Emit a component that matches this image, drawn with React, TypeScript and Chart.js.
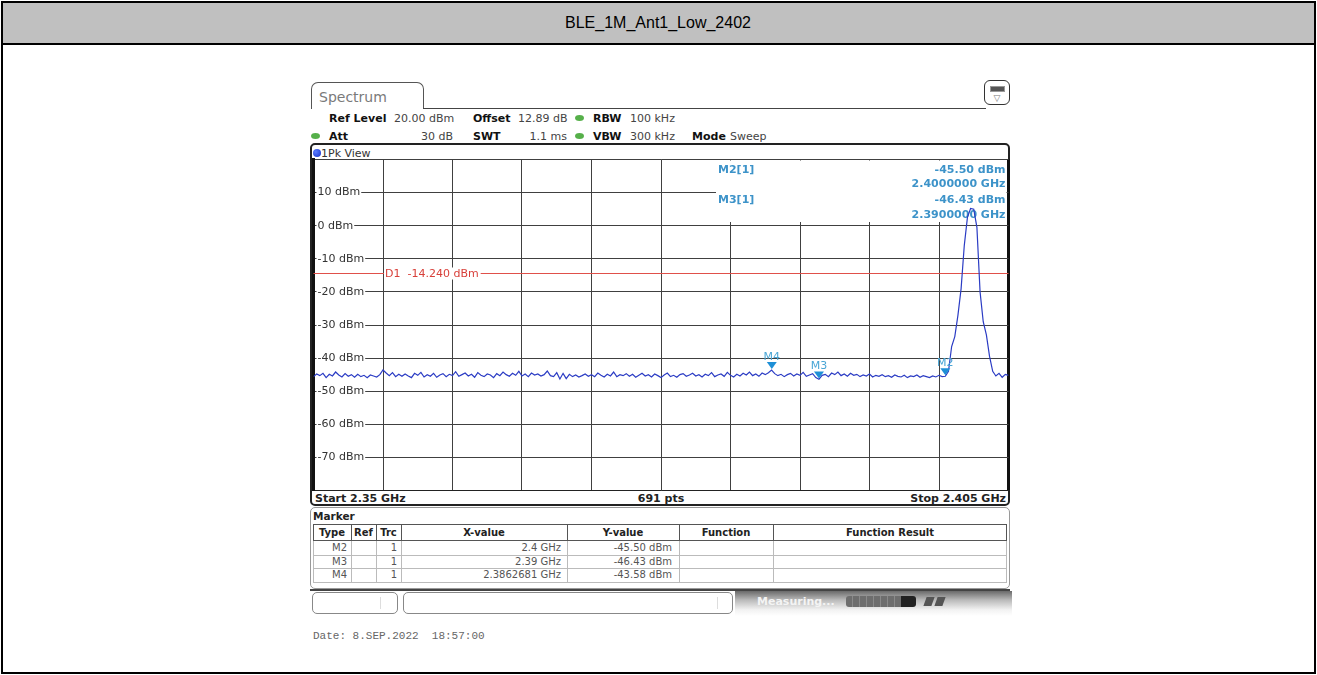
import React, { useEffect, useRef } from "react";
import { Chart, registerables } from "chart.js";

Chart.register(...registerables);

// ---------------- data ----------------
const TITLE = "BLE_1M_Ant1_Low_2402";
const START_GHZ = 2.35;
const STOP_GHZ = 2.405;
const TRACE_STEP_GHZ = 0.00025;
const TRACE_DBM = [
  -45.6, -44.8, -45.3, -44.6, -45.9, -44.9, -45.4, -44.2, -45.1, -45.7,
  -44.7, -45.5, -45.0, -45.8, -44.9, -45.6, -45.2, -45.9, -45.1, -45.4,
  -45.7, -45.0, -43.6, -44.5, -45.3, -44.4, -45.6, -44.9, -45.5, -44.8,
  -45.4, -45.9, -44.6, -45.2, -44.3, -45.7, -45.0, -45.5, -44.6, -45.8,
  -45.1, -44.7, -45.6, -44.9, -45.3, -44.1, -45.5, -45.0, -44.5, -45.4,
  -44.9, -45.8, -44.4, -45.2, -45.6, -44.8, -45.1, -45.9, -44.7, -45.3,
  -44.2, -45.0, -45.5, -44.6, -45.2, -44.0, -45.4, -44.8, -45.6, -44.5,
  -45.1, -44.8, -45.4, -45.0, -43.9, -45.3, -45.6, -44.4, -46.3, -44.6,
  -46.2, -44.9, -45.6, -45.1, -45.7, -45.3, -44.8, -45.5, -45.0, -45.6,
  -44.5, -45.2, -45.7, -44.9, -45.4, -44.2, -45.6, -45.0, -45.3, -44.7,
  -45.5, -44.9, -45.8, -45.2, -44.6, -45.4, -45.0, -45.7, -44.8, -45.3,
  -45.9, -45.1, -44.5, -45.6, -45.2, -45.8, -45.0, -44.7, -45.5, -45.1,
  -44.6, -45.4, -45.0, -45.7, -44.9, -45.3, -44.4, -45.6, -45.1, -44.8,
  -45.5, -44.3, -45.2, -45.7, -44.9, -45.4, -44.6, -45.1, -44.2, -45.3,
  -44.8, -45.5, -44.5, -45.0, -44.4, -43.6, -44.7, -45.3, -44.9, -45.6,
  -45.0, -44.6, -45.4, -44.8, -45.2, -44.3, -45.5, -45.1, -44.7, -45.9,
  -46.4, -45.2, -44.9, -45.6, -44.5, -45.0, -44.2, -45.3, -44.8, -45.5,
  -44.6, -45.2, -44.9, -45.6, -45.1, -45.4, -44.8, -45.7, -45.2, -45.5,
  -45.0, -45.6, -45.3, -45.8, -45.1, -45.5, -45.7, -45.2, -45.9, -45.4,
  -45.6, -45.1, -45.8, -45.3, -45.6, -45.9, -45.4, -45.7, -45.2, -45.6,
  -45.5, -44.0, -36.5, -33.5, -27.0, -19.0, -6.0, 2.5, 5.2, 5.0,
  -0.5, -20.0, -29.0, -33.0, -39.5, -44.0, -45.4, -44.6, -45.8, -44.9, -45.2,
];
const X_GRID_GHZ = [2.35, 2.3555, 2.361, 2.3665, 2.372, 2.3775, 2.383, 2.3885, 2.394, 2.3995, 2.405];
const Y_MIN_DBM = -80;
const Y_MAX_DBM = 20;
const Y_STEP_DB = 10;
const D1_DBM = -14.24;
const D1_TEXT = "D1  -14.240 dBm";

const MARKER_NAMES = ["M2", "M3", "M4"];
const MARKER_GHZ = [2.4, 2.39, 2.3862681];
const MARKER_DBM = [-45.5, -46.43, -43.58];
const MARKER_TRC = ["1", "1", "1"];
const MARKER_X_TEXT = ["2.4 GHz", "2.39 GHz", "2.3862681 GHz"];
const MARKER_Y_TEXT = ["-45.50 dBm", "-46.43 dBm", "-43.58 dBm"];

const INFO_LABELS = ["M2[1]", "M3[1]"];
const INFO_LEVELS = ["-45.50 dBm", "-46.43 dBm"];
const INFO_FREQS = ["2.4000000 GHz", "2.3900000 GHz"];

const TABLE_HEADERS = ["Type", "Ref", "Trc", "X-value", "Y-value", "Function", "Function Result"];

// ---------------- layout constants ----------------
const W = 1317;
const H = 675;
const PLOT_L = 313.5;
const PLOT_R = 1008.5;
const PLOT_T = 159.5;
const PLOT_B = 490.5;
const Y_AXIS_W = 8;
const TABLE_COLS = [313, 351, 376, 401, 567, 679, 773, 1007];

const VERDANA = '"DejaVu Sans", Verdana, sans-serif';
const INFO_BLUE = "#3d93c9";

const overlayPlugin = {
  id: "overlay",
  beforeDatasetsDraw(chart: any) {
    const { ctx, chartArea: a, scales } = chart;
    const xs = scales.x;
    const ys = scales.y;
    ctx.save();
    // marker info box
    ctx.fillStyle = "#ffffff";
    ctx.fillRect(716, a.top + 1, a.right - 2 - 716, 221 - a.top);
    ctx.font = `bold 11px ${VERDANA}`;
    ctx.fillStyle = INFO_BLUE;
    ctx.textBaseline = "middle";
    INFO_LABELS.forEach((lab, j) => {
      const yy = 170 + j * 30.5;
      ctx.textAlign = "left";
      ctx.fillText(lab, 718, yy);
      ctx.textAlign = "right";
      ctx.fillText(INFO_LEVELS[j], a.right - 3, yy);
      ctx.fillText(INFO_FREQS[j], a.right - 3, yy + 14.5);
    });
    // display line D1
    const yd = Math.round(ys.getPixelForValue(D1_DBM)) + 0.5;
    ctx.strokeStyle = "#e0504a";
    ctx.lineWidth = 1;
    ctx.beginPath();
    ctx.moveTo(a.left, yd);
    ctx.lineTo(a.right, yd);
    ctx.stroke();
    const lx = xs.getPixelForValue(X_GRID_GHZ[1]) + 1;
    ctx.font = `11px ${VERDANA}`;
    const tw = ctx.measureText(D1_TEXT).width;
    ctx.fillStyle = "#ffffff";
    ctx.fillRect(lx, yd - 6, tw + 3, 12);
    ctx.fillStyle = "#d8403a";
    ctx.textAlign = "left";
    ctx.fillText(D1_TEXT, lx + 1, yd + 0.5);
    ctx.restore();
  },
  afterDatasetsDraw(chart: any) {
    const { ctx, scales } = chart;
    const xs = scales.x;
    const ys = scales.y;
    ctx.save();
    MARKER_NAMES.forEach((name, i) => {
      const px = xs.getPixelForValue(MARKER_GHZ[i]);
      const py = ys.getPixelForValue(MARKER_DBM[i]);
      ctx.fillStyle = "#1f8fd6";
      ctx.beginPath();
      ctx.moveTo(px - 5, py - 8);
      ctx.lineTo(px + 5, py - 8);
      ctx.lineTo(px, py - 1);
      ctx.closePath();
      ctx.fill();
      ctx.font = `11px ${VERDANA}`;
      ctx.fillStyle = "#4aa6d6";
      ctx.textAlign = "center";
      ctx.textBaseline = "alphabetic";
      ctx.fillText(name, px, py - 10);
    });
    ctx.restore();
  },
};

type TxtProps = {
  x: number;
  y: number;
  children: React.ReactNode;
  align?: "left" | "right" | "center";
  bold?: boolean;
  size?: number;
  color?: string;
  family?: string;
};

function Txt({ x, y, children, align = "left", bold, size = 11, color = "#222", family = VERDANA }: TxtProps) {
  const tx = align === "left" ? "0" : align === "right" ? "-100%" : "-50%";
  return (
    <div
      style={{
        position: "absolute",
        left: x,
        top: y,
        transform: `translate(${tx}, -50%)`,
        whiteSpace: "pre",
        fontSize: size,
        fontWeight: bold ? 700 : 400,
        color,
        fontFamily: family,
        lineHeight: 1,
      }}
    >
      {children}
    </div>
  );
}

function Dot({ x, y, color }: { x: number; y: number; color: string }) {
  return (
    <div
      style={{
        position: "absolute",
        left: x - 4.5,
        top: y - 3,
        width: 9,
        height: 6,
        borderRadius: "50%",
        background: color,
      }}
    />
  );
}

export default function App() {
  const canvasRef = useRef<HTMLCanvasElement | null>(null);

  useEffect(() => {
    const canvas = canvasRef.current;
    if (!canvas) return;
    const points = TRACE_DBM.map((v, i) => ({ x: START_GHZ + i * TRACE_STEP_GHZ, y: v }));
    const chart = new Chart(canvas, {
      type: "line",
      data: {
        datasets: [
          {
            data: points,
            borderColor: "#2b3cc4",
            borderWidth: 1.2,
            pointRadius: 0,
            tension: 0,
            fill: false,
          },
        ],
      },
      options: {
        animation: false,
        responsive: false,
        devicePixelRatio: 1,
        events: [],
        layout: {
          padding: { left: PLOT_L - Y_AXIS_W, top: PLOT_T, right: W - PLOT_R, bottom: H - PLOT_B },
        },
        plugins: { legend: { display: false }, tooltip: { enabled: false } },
        scales: {
          x: {
            type: "linear",
            min: START_GHZ,
            max: STOP_GHZ,
            afterBuildTicks: (s: any) => {
              s.ticks = X_GRID_GHZ.map((v) => ({ value: v }));
            },
            ticks: { display: false },
            grid: {
              drawTicks: false,
              color: (c: any) => (c.index === 0 || c.index === X_GRID_GHZ.length - 1 ? "#111" : "#404040"),
              lineWidth: (c: any) => (c.index === 0 || c.index === X_GRID_GHZ.length - 1 ? 3 : 1),
            },
            border: { display: true, color: "#222", width: 1 },
          },
          y: {
            type: "linear",
            min: Y_MIN_DBM,
            max: Y_MAX_DBM,
            ticks: {
              stepSize: Y_STEP_DB,
              mirror: true,
              padding: 4,
              color: "#333",
              font: { family: "DejaVu Sans", size: 11 },
              callback: (v: any) => (v === Y_MAX_DBM || v === Y_MIN_DBM ? "" : `${v} dBm`),
              showLabelBackdrop: (c: any) => !(c.tick && (c.tick.value === Y_MAX_DBM || c.tick.value === Y_MIN_DBM)),
              backdropColor: "#ffffff",
              backdropPadding: { left: 1, right: 1, top: 0, bottom: 0 },
            },
            grid: { drawTicks: false, color: "#404040", lineWidth: 1 },
            border: { display: true, color: "#111", width: 3 },
          },
        },
      } as any,
      plugins: [overlayPlugin],
    });
    return () => chart.destroy();
  }, []);

  const rowTop = [541, 554.5, 568];
  const rowH = 13.5;

  return (
    <div
      style={{
        position: "fixed",
        left: 0,
        top: 0,
        width: W,
        height: H,
        background: "#fff",
        overflow: "hidden",
        fontFamily: VERDANA,
      }}
    >
      {/* page frame */}
      <div style={{ position: "absolute", left: 1, top: 1, width: 1315, height: 673, border: "2px solid #000", boxSizing: "border-box" }} />
      <div
        style={{
          position: "absolute",
          left: 1,
          top: 1,
          width: 1315,
          height: 44,
          background: "#c0c0c0",
          border: "2px solid #000",
          boxSizing: "border-box",
        }}
      />
      <Txt x={658} y={23} align="center" size={16} color="#000" family='"Liberation Sans", Arial, sans-serif'>
        {TITLE}
      </Txt>

      {/* Spectrum tab */}
      <div
        style={{
          position: "absolute",
          left: 311,
          top: 82,
          width: 113,
          height: 27,
          border: "1.5px solid #555",
          borderBottom: "none",
          borderRadius: "7px 7px 0 0",
          boxSizing: "border-box",
          background: "#fff",
        }}
      />
      <Txt x={319} y={97} size={14} color="#7a7a7a">Spectrum</Txt>
      <div style={{ position: "absolute", left: 423, top: 107.5, width: 563, height: 0, borderTop: "1.5px solid #444" }} />
      <div
        style={{
          position: "absolute",
          left: 984,
          top: 80,
          width: 26,
          height: 25,
          border: "1.5px solid #333",
          borderRadius: 6,
          boxSizing: "border-box",
          background: "#fff",
        }}
      />
      <div style={{ position: "absolute", left: 990, top: 86, width: 13, height: 4, background: "#555", border: "1px solid #999" }} />
      <Txt x={997} y={97.5} align="center" size={9} color="#777">▽</Txt>

      {/* header */}
      <Txt x={329} y={118} bold color="#111">Ref Level</Txt>
      <Txt x={394} y={118} color="#444">20.00 dBm</Txt>
      <Txt x={473} y={118} bold color="#111">Offset</Txt>
      <Txt x={518} y={118} color="#444">12.89 dB</Txt>
      <Dot x={579} y={118} color="#56b04a" />
      <Txt x={593} y={118} bold color="#111">RBW</Txt>
      <Txt x={630} y={118} color="#444">100 kHz</Txt>

      <Dot x={315} y={135.5} color="#56b04a" />
      <Txt x={329} y={135.5} bold color="#111">Att</Txt>
      <Txt x={453} y={135.5} align="right" color="#444">30 dB</Txt>
      <Txt x={473} y={135.5} bold color="#111">SWT</Txt>
      <Txt x={567} y={135.5} align="right" color="#444">1.1 ms</Txt>
      <Dot x={579} y={135.5} color="#56b04a" />
      <Txt x={593} y={135.5} bold color="#111">VBW</Txt>
      <Txt x={630} y={135.5} color="#444">300 kHz</Txt>
      <Txt x={692} y={135.5} bold color="#111">Mode</Txt>
      <Txt x={730} y={135.5} color="#444">Sweep</Txt>

      {/* plot frame */}
      <div
        style={{
          position: "absolute",
          left: 310,
          top: 143,
          width: 700,
          height: 363,
          border: "2px solid #222",
          borderRadius: 5,
          boxSizing: "border-box",
        }}
      />
      <div
        style={{
          position: "absolute",
          left: 312.5,
          top: 148.5,
          width: 8,
          height: 8,
          borderRadius: "50%",
          background: "radial-gradient(circle at 35% 35%, #5a7cff, #1430c8)",
        }}
      />
      <Txt x={321} y={152.5} color="#333">1Pk View</Txt>
      <Txt x={315} y={498} bold color="#222">Start 2.35 GHz</Txt>
      <Txt x={661} y={498} bold align="center" color="#222">691 pts</Txt>
      <Txt x={1006} y={498} bold align="right" color="#222">Stop 2.405 GHz</Txt>

      {/* marker table */}
      <div
        style={{
          position: "absolute",
          left: 310,
          top: 507,
          width: 700,
          height: 82,
          border: "1.5px solid #999",
          borderRadius: 5,
          boxSizing: "border-box",
        }}
      />
      <Txt x={313} y={515.5} bold size={10.5} color="#222">Marker</Txt>
      {TABLE_HEADERS.map((h, c) => (
        <div
          key={h}
          style={{
            position: "absolute",
            left: TABLE_COLS[c],
            top: 524,
            width: TABLE_COLS[c + 1] - TABLE_COLS[c],
            height: 17,
            borderLeft: "1px solid #555",
            borderTop: "1px solid #555",
            borderBottom: "1px solid #555",
            borderRight: c === TABLE_HEADERS.length - 1 ? "1px solid #555" : "none",
            boxSizing: "border-box",
          }}
        />
      ))}
      {TABLE_HEADERS.map((h, c) => (
        <Txt key={"t" + h} x={(TABLE_COLS[c] + TABLE_COLS[c + 1]) / 2} y={532.5} align="center" bold size={10} color="#222">
          {h}
        </Txt>
      ))}
      {MARKER_NAMES.map((name, r) => (
        <React.Fragment key={name}>
          {TABLE_HEADERS.map((h, c) => (
            <div
              key={h}
              style={{
                position: "absolute",
                left: TABLE_COLS[c],
                top: rowTop[r],
                width: TABLE_COLS[c + 1] - TABLE_COLS[c],
                height: rowH + 1,
                borderLeft: "1px solid #bbb",
                borderBottom: "1px solid #bbb",
                borderRight: c === TABLE_HEADERS.length - 1 ? "1px solid #bbb" : "none",
                boxSizing: "border-box",
              }}
            />
          ))}
          <Txt x={TABLE_COLS[1] - 4} y={rowTop[r] + 7} align="right" size={10} color="#555">{name}</Txt>
          <Txt x={TABLE_COLS[3] - 4} y={rowTop[r] + 7} align="right" size={10} color="#555">{MARKER_TRC[r]}</Txt>
          <Txt x={TABLE_COLS[4] - 6} y={rowTop[r] + 7} align="right" size={10} color="#555">{MARKER_X_TEXT[r]}</Txt>
          <Txt x={TABLE_COLS[5] - 7} y={rowTop[r] + 7} align="right" size={10} color="#555">{MARKER_Y_TEXT[r]}</Txt>
        </React.Fragment>
      ))}

      {/* status bar */}
      <div style={{ position: "absolute", left: 310, top: 589, width: 700, height: 2, background: "#444" }} />
      <div style={{ position: "absolute", left: 312, top: 592, width: 86, height: 22, border: "1px solid #888", borderRadius: 5, boxSizing: "border-box" }} />
      <div style={{ position: "absolute", left: 380, top: 597, width: 1, height: 12, background: "#ddd" }} />
      <div style={{ position: "absolute", left: 403, top: 592, width: 330, height: 22, border: "1px solid #888", borderRadius: 5, boxSizing: "border-box" }} />
      <div style={{ position: "absolute", left: 717, top: 597, width: 1, height: 12, background: "#ddd" }} />
      <div
        style={{
          position: "absolute",
          left: 735,
          top: 591,
          width: 277,
          height: 25,
          background: "linear-gradient(to bottom, #6a6a6a 0%, #b8b8b8 35%, #f2f2f2 75%, #ffffff 100%)",
        }}
      />
      <Txt x={757} y={601} bold size={11} color="#f4f4f4">Measuring...</Txt>
      <div
        style={{
          position: "absolute",
          left: 846,
          top: 596,
          width: 70,
          height: 11,
          borderRadius: 3,
          background:
            "linear-gradient(to right, transparent 0%, transparent 78%, #222 78%, #222 100%), repeating-linear-gradient(to right, #6e6e6e 0px, #6e6e6e 6px, #8a8a8a 6px, #8a8a8a 7px)",
        }}
      />
      <div style={{ position: "absolute", left: 925, top: 597, width: 8, height: 9, background: "#555", transform: "skewX(-20deg)" }} />
      <div style={{ position: "absolute", left: 936, top: 597, width: 8, height: 9, background: "#555", transform: "skewX(-20deg)" }} />

      <Txt x={313} y={636} size={11} color="#666" family='"Liberation Mono", "DejaVu Sans Mono", monospace'>
        Date: 8.SEP.2022  18:57:00
      </Txt>

      <canvas
        ref={canvasRef}
        width={W}
        height={H}
        style={{ position: "absolute", left: 0, top: 0, width: W, height: H, zIndex: 2, pointerEvents: "none" }}
      />
    </div>
  );
}
